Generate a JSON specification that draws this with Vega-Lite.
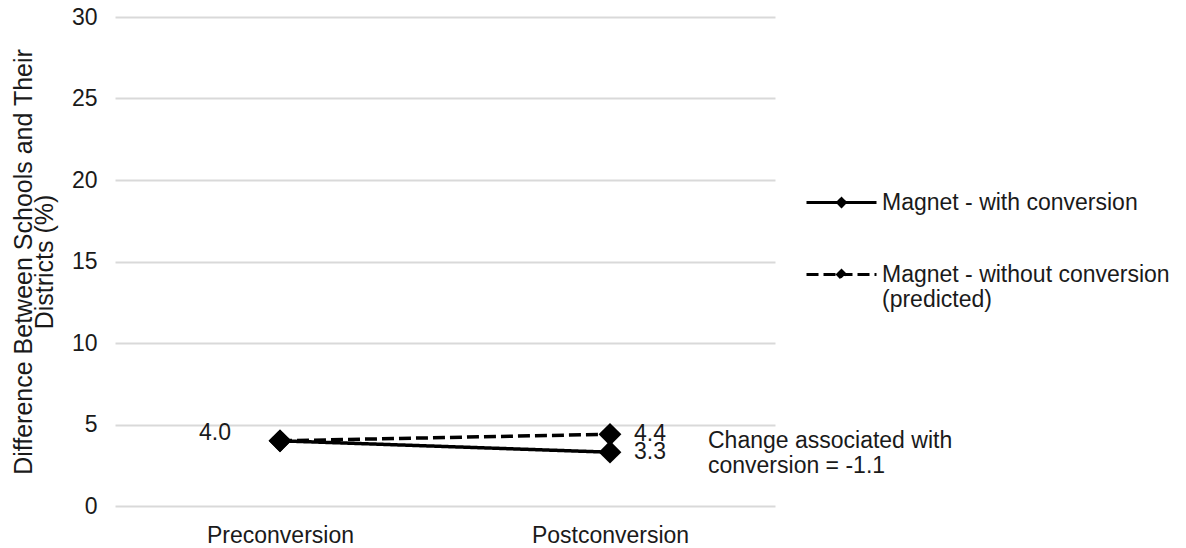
{
  "$schema": "https://vega.github.io/schema/vega-lite/v6.json",
  "autosize": {"type": "none"},
  "padding": {"left": 115, "top": 17, "right": 411, "bottom": 42},
  "width": 660,
  "height": 489,
  "config": {
    "view": {"stroke": null},
    "font": "Liberation Sans",
    "axis": {"labelFont": "Liberation Sans", "titleFont": "Liberation Sans", "labelColor": "#1a1a1a", "titleColor": "#1a1a1a"},
    "legend": {"labelFont": "Liberation Sans"}
  },
  "data": {
    "values": [
      {"series": "Magnet - with conversion", "period": "Preconversion", "value": 4.0},
      {"series": "Magnet - with conversion", "period": "Postconversion", "value": 3.3},
      {"series": "Magnet - without conversion (predicted)", "period": "Preconversion", "value": 4.0},
      {"series": "Magnet - without conversion (predicted)", "period": "Postconversion", "value": 4.4}
    ]
  },
  "encoding": {
    "x": {
      "field": "period", "type": "nominal", "sort": ["Preconversion", "Postconversion"],
      "scale": {"paddingInner": 0, "paddingOuter": 0},
      "axis": {"title": null, "labelAngle": 0, "labelFontSize": 23, "labelPadding": 18, "domain": false, "ticks": false, "grid": false}
    },
    "y": {
      "field": "value", "type": "quantitative",
      "scale": {"domain": [0, 30], "nice": false},
      "axis": {
        "values": [0, 5, 10, 15, 20, 25, 30],
        "title": ["Difference Between Schools and Their", "Districts (%)"],
        "titleFontSize": 25, "titleFontWeight": "normal", "titlePadding": 14, "titleLineHeight": 21,
        "labelFontSize": 23, "labelPadding": 18, "domain": false, "ticks": false,
        "grid": true, "gridColor": "#d9d9d9", "gridWidth": 2
      }
    }
  },
  "layer": [
    {
      "mark": {"type": "line", "color": "black", "strokeWidth": 3.5},
      "encoding": {
        "detail": {"field": "series"},
        "strokeDash": {
          "field": "series", "type": "nominal",
          "scale": {"domain": ["Magnet - with conversion", "Magnet - without conversion (predicted)"], "range": [[1, 0], [12, 5]]},
          "legend": {
            "title": null, "orient": "none", "legendX": 690, "legendY": 149,
            "symbolType": "M-1,0H1M-0.11,0L0,-0.11L0.11,0L0,0.11Z",
            "symbolSize": 4900, "symbolStrokeWidth": 3, "symbolStrokeColor": "black", "symbolFillColor": "black",
            "labelFontSize": 23, "labelColor": "#1a1a1a", "labelOffset": 4, "rowPadding": 23, "labelLimit": 400,
            "labelExpr": "datum.label == 'Magnet - without conversion (predicted)' ? ['Magnet - without conversion', '(predicted)'] : datum.label"
          }
        }
      }
    },
    {
      "mark": {"type": "point", "shape": "diamond", "filled": true, "color": "black", "size": 520, "opacity": 1},
      "encoding": {"detail": {"field": "series"}}
    },
    {
      "transform": [{"filter": "datum.period == 'Preconversion' && datum.series == 'Magnet - with conversion'"}],
      "mark": {"type": "text", "align": "right", "dx": -49, "dy": -8, "fontSize": 23, "color": "#1a1a1a"},
      "encoding": {"text": {"field": "value", "type": "quantitative", "format": ".1f"}}
    },
    {
      "transform": [{"filter": "datum.period == 'Postconversion'"}],
      "mark": {"type": "text", "align": "left", "dx": 24, "dy": 0, "fontSize": 23, "color": "#1a1a1a"},
      "encoding": {"text": {"field": "value", "type": "quantitative", "format": ".1f"}}
    },
    {
      "data": {"values": [{"period": "Postconversion", "value": 4.0, "note": ["Change associated with", "conversion = -1.1"]}]},
      "mark": {"type": "text", "align": "left", "baseline": "middle", "dx": 98, "fontSize": 23, "lineHeight": 25, "color": "#1a1a1a"},
      "encoding": {"text": {"field": "note"}}
    }
  ]
}
